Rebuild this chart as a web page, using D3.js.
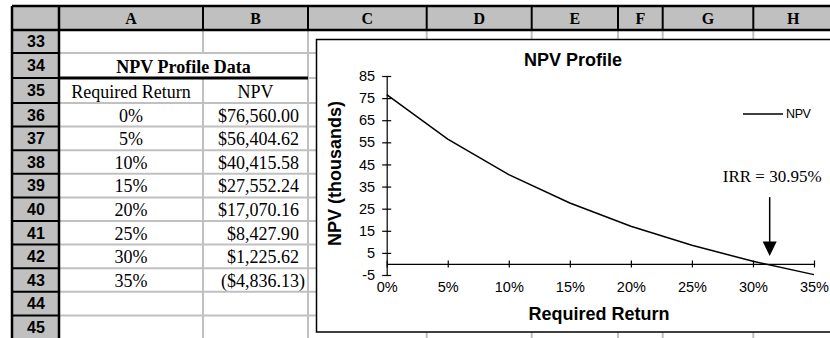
<!DOCTYPE html>
<html><head><meta charset="utf-8">
<script src="https://cdn.jsdelivr.net/npm/d3@7"></script>
<style>body{margin:0;background:#fff;} svg{display:block;}</style>
</head><body><svg id="c" width="830" height="338"></svg>
<script>
// ---------------- data ----------------
const rates = [0, 0.05, 0.10, 0.15, 0.20, 0.25, 0.30, 0.35];
const rateLabels = ["0%", "5%", "10%", "15%", "20%", "25%", "30%", "35%"];
const npvDollars = [76560.00, 56404.62, 40415.58, 27552.24, 17070.16, 8427.90, 1225.62, -4836.13];
const yTickValues = [-5, 5, 15, 25, 35, 45, 55, 65, 75, 85];
const columnLetters = ["A", "B", "C", "D", "E", "F", "G", "H"];
const rowNumbers = [33, 34, 35, 36, 37, 38, 39, 40, 41, 42, 43, 44, 45];
const tableTitle = "NPV Profile Data";
const tableHeaders = ["Required Return", "NPV"];
const chartTitle = "NPV Profile";
const xTitle = "Required Return";
const yTitle = "NPV (thousands)";
const seriesName = "NPV";
const irrLabel = "IRR = 30.95%";
// annotation anchor in data units (rate, NPV thousands)
const irrArrow = {rate: 0.3137, top: 30.2, headStart: 10.1, tip: 3.6, textY: 37.2};

// ---------------- layout ----------------
const svg = d3.select("#c");
const W = 830, H = 338;
const colEdges = [59, 203, 308, 426.7, 531.7, 618, 662.7, 753.3, 833];
const rowEdges = [30, 53, 78, 103, 126.6, 150.2, 173.8, 197.4, 221, 244.6, 268.2, 291.8, 315.4, 339];
const headTop = 6, headLeft = 12;
const grid = "#c0c0c0";
const serif = "'Liberation Serif','Times New Roman',serif";
const sans = "'Liberation Sans',Arial,sans-serif";

svg.append("rect").attr("width", W).attr("height", H).attr("fill", "#fff");

// gray cell gridlines
const g0 = svg.append("g").attr("stroke", grid).attr("stroke-width", 2);
rowEdges.slice(1).forEach(y => g0.append("line").attr("x1", colEdges[0]).attr("x2", W).attr("y1", y).attr("y2", y));
colEdges.slice(1).forEach((x, i) => {
  if (i === 0) { // A|B divider, hidden in merged row 34
    g0.append("line").attr("x1", x).attr("x2", x).attr("y1", rowEdges[0]).attr("y2", rowEdges[1]);
    g0.append("line").attr("x1", x).attr("x2", x).attr("y1", rowEdges[2]).attr("y2", H);
  } else {
    g0.append("line").attr("x1", x).attr("x2", x).attr("y1", rowEdges[0]).attr("y2", H);
  }
});

// headers
svg.append("rect").attr("x", headLeft).attr("y", headTop).attr("width", W - headLeft).attr("height", rowEdges[0] - headTop).attr("fill", grid);
svg.append("rect").attr("x", headLeft).attr("y", headTop).attr("width", colEdges[0] - headLeft).attr("height", H - headTop).attr("fill", grid);
const gb = svg.append("g").attr("stroke", "#000").attr("stroke-width", 2);
colEdges.slice(1).forEach(x => gb.append("line").attr("x1", x).attr("x2", x).attr("y1", headTop).attr("y2", rowEdges[0]));
rowEdges.slice(1).forEach(y => gb.append("line").attr("x1", headLeft).attr("x2", colEdges[0]).attr("y1", y).attr("y2", y));
const gbt = svg.append("g").attr("stroke", "#000").attr("stroke-width", 2.5);
gbt.append("line").attr("x1", headLeft).attr("x2", W).attr("y1", headTop).attr("y2", headTop);
gbt.append("line").attr("x1", headLeft).attr("x2", W).attr("y1", rowEdges[0]).attr("y2", rowEdges[0]);
gbt.append("line").attr("x1", headLeft).attr("x2", headLeft).attr("y1", headTop).attr("y2", H);
gbt.append("line").attr("x1", colEdges[0]).attr("x2", colEdges[0]).attr("y1", headTop).attr("y2", H);

columnLetters.forEach((c, i) => {
  svg.append("text").attr("x", (colEdges[i] + colEdges[i + 1]) / 2).attr("y", 24)
    .attr("text-anchor", "middle").attr("font-family", serif).attr("font-weight", "bold")
    .attr("font-size", 16).text(c);
});
rowNumbers.forEach((r, i) => {
  svg.append("text").attr("x", (headLeft + colEdges[0]) / 2 + 0.5).attr("y", (rowEdges[i] + rowEdges[i + 1]) / 2 + 5.8)
    .attr("text-anchor", "middle").attr("font-family", sans).attr("font-weight", "bold")
    .attr("font-size", 16).text(r);
});

// table
const colA = (colEdges[0] + colEdges[1]) / 2, colB = (colEdges[1] + colEdges[2]) / 2;
svg.append("text").attr("x", (colEdges[0] + colEdges[2]) / 2).attr("y", rowEdges[2] - 5.5)
  .attr("text-anchor", "middle").attr("font-family", serif).attr("font-weight", "bold").attr("font-size", 18).text(tableTitle);
svg.append("line").attr("x1", colEdges[0]).attr("x2", colEdges[2]).attr("y1", rowEdges[2]).attr("y2", rowEdges[2])
  .attr("stroke", "#000").attr("stroke-width", 3);
svg.append("text").attr("x", colA).attr("y", rowEdges[3] - 5).attr("text-anchor", "middle")
  .attr("font-family", serif).attr("font-size", 18).text(tableHeaders[0]);
svg.append("text").attr("x", colB).attr("y", rowEdges[3] - 5).attr("text-anchor", "middle")
  .attr("font-family", serif).attr("font-size", 18).text(tableHeaders[1]);
const money = d3.format("$,.2f");
rates.forEach((r, i) => {
  const yb = rowEdges[4 + i] - 5;
  svg.append("text").attr("x", colA).attr("y", yb).attr("text-anchor", "middle")
    .attr("font-family", serif).attr("font-size", 18).text(rateLabels[i]);
  const v = npvDollars[i];
  svg.append("text").attr("x", v < 0 ? colEdges[2] - 3 : colEdges[2] - 9).attr("y", yb).attr("text-anchor", "end")
    .attr("font-family", serif).attr("font-size", 18).text(v < 0 ? "(" + money(-v) + ")" : money(v));
});

// ---------------- chart ----------------
svg.append("rect").attr("x", 316.5).attr("y", 39.5).attr("width", 540).attr("height", 292.5)
  .attr("fill", "#fff").attr("stroke", "#000").attr("stroke-width", 1.5);

const x = d3.scaleLinear().domain([0, 0.35]).range([386.7, 814]);
const y = d3.scaleLinear().domain([-5, 85]).range([275, 76]);

const yAxis = svg.append("g").attr("transform", `translate(${x(0)},0)`)
  .call(d3.axisLeft(y).tickValues(yTickValues).tickFormat(d => String(d)).tickSize(4.5).tickSizeOuter(0).tickPadding(7));
yAxis.selectAll(".tick line").attr("x1", 4.5).attr("x2", -4.5);
const xAxis = svg.append("g").attr("transform", `translate(0,${y(0)})`)
  .call(d3.axisBottom(x).tickValues(rates).tickFormat((d, i) => rateLabels[i]).tickSize(3.5).tickSizeOuter(0).tickPadding(14.2));
xAxis.selectAll(".tick line").attr("y1", -3.5).attr("y2", 3.5);
[yAxis, xAxis].forEach(a => {
  a.attr("font-family", sans).attr("font-size", 14.5);
  a.selectAll("text").attr("fill", "#000");
  a.selectAll("line,path").attr("stroke", "#000").attr("stroke-width", 1.2);
});

const line = d3.line().x((d, i) => x(rates[i])).y(d => y(d / 1000));
svg.append("path").datum(npvDollars).attr("d", line).attr("fill", "none").attr("stroke", "#000").attr("stroke-width", 1.5);

svg.append("text").attr("x", 573).attr("y", 66).attr("text-anchor", "middle")
  .attr("font-family", sans).attr("font-weight", "bold").attr("font-size", 18).text(chartTitle);
svg.append("text").attr("x", 599).attr("y", 320).attr("text-anchor", "middle")
  .attr("font-family", sans).attr("font-weight", "bold").attr("font-size", 18).text(xTitle);
svg.append("text").attr("transform", "translate(341,173.5) rotate(-90)").attr("text-anchor", "middle")
  .attr("font-family", sans).attr("font-weight", "bold").attr("font-size", 18).text(yTitle);

// legend
svg.append("line").attr("x1", 743).attr("x2", 783).attr("y1", 114).attr("y2", 114).attr("stroke", "#000").attr("stroke-width", 1.3);
svg.append("text").attr("x", 786).attr("y", 118.4).attr("font-family", sans).attr("font-size", 12.5)
  .attr("letter-spacing", -0.4).text(seriesName);

// IRR annotation
const ax = x(irrArrow.rate);
svg.append("text").attr("x", ax + 2.5).attr("y", y(irrArrow.textY)).attr("text-anchor", "middle")
  .attr("font-family", serif).attr("font-size", 17).text(irrLabel);
svg.append("line").attr("x1", ax).attr("x2", ax).attr("y1", y(irrArrow.top)).attr("y2", y(irrArrow.headStart) + 1)
  .attr("stroke", "#000").attr("stroke-width", 1.5);
svg.append("path").attr("d", `M${ax - 7},${y(irrArrow.headStart)} L${ax + 7},${y(irrArrow.headStart)} L${ax},${y(irrArrow.tip)} Z`).attr("fill", "#000");
</script></body></html>
